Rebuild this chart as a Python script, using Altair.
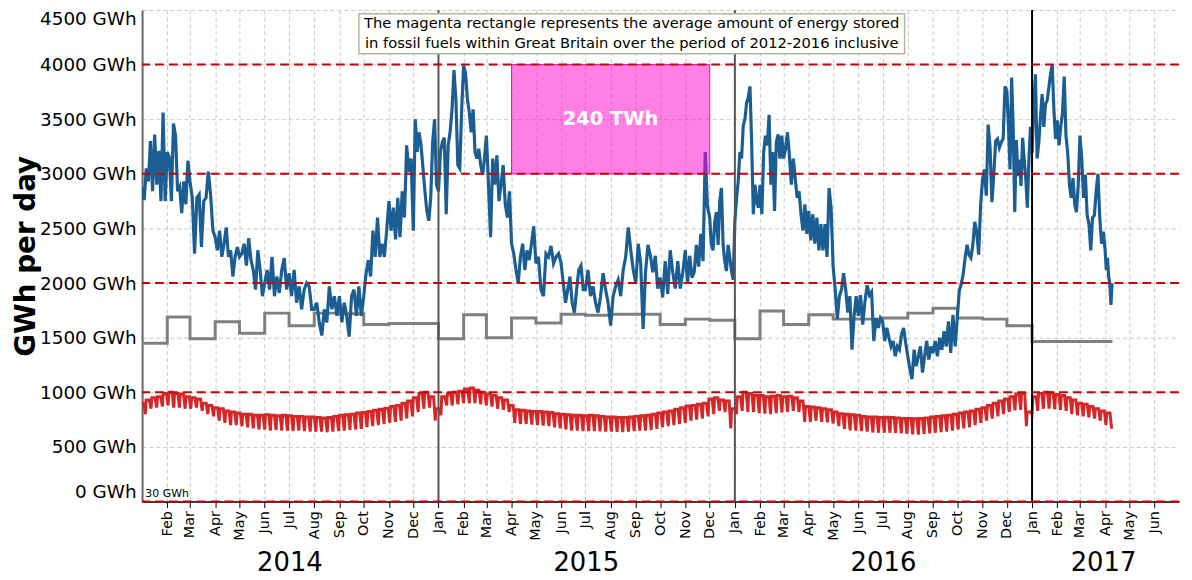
import calendar
from datetime import datetime, timedelta

import altair as alt
import pandas as pd

# ---------------- data ----------------
# Daily gas demand (blue), sampled values per month
blue_2014 = [
    [2880, 2760, 3050, 2930, 3300, 2840, 3360, 2900, 3210, 2750, 3560, 2750],
    [3200, 3150, 2750, 3460, 3350, 2840, 2880, 2640, 2930, 2720, 3120],
    [2930, 2780, 2270, 2780, 2810, 2330, 2750, 2780, 3020, 2810, 2480],
    [2420, 2300, 2480, 2240, 2360, 2510, 2240, 2300, 2060, 2240, 2330],
    [2240, 2270, 2360, 2160, 2410, 2210, 2120, 1940, 2300, 2120, 1880],
    [2000, 2120, 1940, 2240, 1880, 2060, 1910, 2120, 2230, 1940],
    [2090, 1880, 2120, 1820, 1970, 1760, 1940, 2000, 1970, 1760],
    [1760, 1820, 1640, 1520, 1760, 1640, 1970, 1760, 1880, 1700],
    [1880, 1640, 1820, 1700, 1510, 1880, 1940, 1700, 1970, 1700],
    [1880, 2090, 2210, 2060, 2480, 2240, 2600, 2240, 2360, 2240, 2480],
    [2750, 2480, 2690, 2400, 2780, 2420, 2840, 2600, 3260, 3020, 3140],
    [2480, 3500, 3200, 3380, 3260, 3050, 2840, 2660, 2570, 2780, 3290, 3500, 2900],
]
blue_2015 = [
    [2840, 3200, 3290, 3330, 2630, 3260, 3380, 3590, 3950, 3680, 3080, 3050, 3600],
    [3990, 3920, 3680, 3560, 3380, 3590, 3200, 3140, 3230, 3080, 2990, 3140],
    [3350, 2900, 2420, 3140, 2900, 3170, 2750, 2900, 3080, 2720, 2600, 2840],
    [2360, 2270, 2120, 2000, 2240, 2360, 2120, 2300, 2210, 2360, 2520],
    [2180, 2240, 1940, 1880, 2270, 2240, 2340, 2180, 2240, 2270],
    [2180, 2000, 1820, 1940, 2060, 1820, 1730, 1940, 2120, 2160, 1940],
    [1940, 2120, 1880, 1970, 1820, 1730, 1880, 2090, 1940, 1820],
    [1610, 1880, 1970, 2030, 1880, 2120, 2240, 2510, 2300, 2120],
    [2000, 2360, 2180, 1580, 2100, 2350, 2250, 2100, 2250, 1950],
    [2050, 1870, 2200, 1900, 2300, 2100, 1950, 2200, 1950, 2100],
    [2300, 2000, 2250, 2050, 2100, 2350, 2150, 2450, 2200, 3200, 2700],
    [2600, 2350, 2300, 2560, 2650, 2350, 2750, 2870, 2350, 2200, 2110, 2350, 2230, 2110, 2030],
]
blue_2016 = [
    [2560, 2780, 2930, 3200, 3140, 3440, 3500, 3650, 3700, 3800, 3290, 2630, 2900, 2750, 2690],
    [2900, 2630, 3200, 3350, 3260, 3540, 2900, 3200, 2660, 3290, 3360, 3140, 3350],
    [3140, 3230, 3380, 3170, 2900, 3140, 2960, 2780, 2840, 2630, 2480, 2720, 2450],
    [2660, 2390, 2630, 2360, 2600, 2300, 2540, 2300, 2540, 2240, 2870, 2690],
    [2150, 1940, 1670, 1880, 1940, 2090, 1940, 1730, 1880, 1390, 1700, 1880],
    [1700, 1890, 1620, 1830, 1980, 1890, 1920, 1470, 1680, 1590, 1680],
    [1650, 1470, 1590, 1500, 1420, 1470, 1330, 1420, 1390, 1530, 1590, 1450],
    [1330, 1210, 1120, 1390, 1240, 1330, 1420, 1180, 1330, 1470, 1300, 1420],
    [1360, 1470, 1330, 1500, 1390, 1560, 1420, 1650, 1360, 1710, 1420],
    [1690, 1930, 1990, 2080, 2230, 2350, 2260, 2230, 2350, 2560, 2470, 2260, 2710],
    [2950, 3040, 2800, 3450, 3250, 2740, 2990, 3300, 3320, 3240, 3290, 3320, 3800],
    [3760, 3430, 3040, 3880, 3430, 2650, 3310, 2980, 3130, 2890, 3330, 3130, 2960, 2690, 3130, 3430],
]
blue_2017 = [
    [3190, 3610, 3910, 3140, 3280, 3520, 3730, 3430, 3640, 3670, 3790, 3910, 4000, 3590, 3320],
    [3490, 3260, 3430, 3560, 3890, 3350, 3190, 2900, 2780, 2960, 2720, 2650, 2900],
    [3350, 3140, 2780, 2990, 2620, 2540, 2300, 2600, 2620, 2840, 3000, 2600, 2360, 2470],
    [2300, 2120, 2230, 2060, 2000, 1800, 2000],
]
blue_last_days = 10  # data stops around 10 April 2017

# Monthly step series (grey)
gray_2014 = [1450, 1690, 1490, 1645, 1540, 1725, 1610, 1725, 1720, 1620, 1630, 1630]
gray_2015 = [1490, 1710, 1500, 1680, 1635, 1715, 1705, 1715, 1715, 1620, 1670, 1660]
gray_2016 = [1490, 1745, 1620, 1710, 1670, 1670, 1680, 1725, 1770, 1680, 1670, 1610]
gray_2017 = [1465, 1465, 1465, 1465]

# Electricity (red): weekday level and weekend dip per week (weeks start Mon 30 Dec 2013)
red_high_2014 = [900, 930, 950, 960, 990, 1000, 990, 985, 960, 950, 940, 900, 880, 860,
                 850, 830, 820, 810, 800, 800, 790, 790, 795, 790, 785, 790, 785,
                 780, 780, 775, 775, 770, 765, 770, 780, 790, 795, 800, 810, 815,
                 825, 835, 845, 855, 870, 880, 900, 920, 950, 990, 1000, 960]
red_low_2014 = [800, 850, 860, 870, 880, 860, 860, 850, 850, 860, 830, 800, 780, 740,
                720, 700, 700, 690, 680, 670, 660, 660, 650, 655, 650, 650, 645,
                650, 645, 640, 640, 640, 635, 640, 645, 650, 655, 660, 665, 680,
                690, 700, 710, 720, 730, 740, 760, 780, 820, 850, 860, 740]
red_high_2015 = [850, 960, 985, 1000, 1010, 1030, 1040, 1020, 1000, 985, 970, 950, 930, 880,
                 840, 835, 830, 825, 825, 820, 815, 805, 800, 795, 790, 790, 785,
                 790, 785, 780, 775, 775, 770, 770, 775, 780, 785, 790, 800, 810,
                 820, 830, 845, 860, 875, 880, 890, 900, 940, 950, 930, 920, 850]
red_low_2015 = [790, 880, 880, 890, 900, 900, 900, 890, 880, 870, 850, 840, 820, 720,
                710, 710, 705, 700, 695, 690, 680, 670, 660, 650, 650, 645, 645,
                645, 642, 640, 640, 638, 636, 640, 645, 650, 650, 655, 665, 680,
                690, 700, 710, 720, 740, 750, 760, 780, 800, 830, 820, 670, 800]
red_high_2016 = [960, 1000, 990, 970, 970, 960, 965, 970, 960, 965, 950, 920, 870,
                 865, 860, 850, 840, 820, 805, 800, 795, 790, 780, 775, 775, 770,
                 772, 770, 765, 760, 760, 758, 760, 765, 775, 780, 785, 790, 800,
                 810, 820, 830, 845, 860, 880, 900, 920, 940, 960, 985, 990, 820]
red_low_2016 = [830, 820, 820, 810, 805, 800, 810, 815, 820, 830, 820, 730, 730,
                740, 730, 725, 715, 690, 665, 651, 650, 645, 640, 632, 630, 630,
                630, 628, 625, 620, 615, 612, 620, 625, 630, 636, 640, 650, 660,
                670, 680, 700, 720, 740, 760, 780, 800, 820, 835, 840, 690, 800]
red_high_2017 = [960, 990, 1000, 995, 980, 970, 950, 930, 900, 890, 870, 850, 830, 810]
red_low_2017 = [830, 850, 850, 845, 840, 830, 800, 790, 780, 770, 760, 740, 700, 667]

year_names = ["2014", "2015", "2016", "2017"]
red_levels = [0, 1000, 2000, 3000, 4000]
y_ticks = [0, 500, 1000, 1500, 2000, 2500, 3000, 3500, 4000, 4500]

note_lines = [
    "The magenta rectangle represents the average amount of energy stored",
    "in fossil fuels within Great Britain over the period of 2012-2016 inclusive",
]

FONT = "DejaVu Sans"


def iso(d):
    return d.strftime("%Y-%m-%dT%H:%M:%SZ")


# ---------------- build tables ----------------
blue_rows = []
for year, months in [(2014, blue_2014), (2015, blue_2015), (2016, blue_2016), (2017, blue_2017)]:
    for m, vals in enumerate(months, start=1):
        span = calendar.monthrange(year, m)[1]
        if year == 2017 and m == len(blue_2017):
            span = blue_last_days
        n = len(vals)
        for i, v in enumerate(vals):
            d = datetime(year, m, 1) + timedelta(days=i * span / n)
            blue_rows.append({"date": iso(d), "v": v})
blue_df = pd.DataFrame(blue_rows)

gray_rows = []
for year, vals in [(2014, gray_2014), (2015, gray_2015), (2016, gray_2016), (2017, gray_2017)]:
    for m, v in enumerate(vals, start=1):
        gray_rows.append({"date": iso(datetime(year, m, 1)), "v": v})
gray_rows.append({"date": iso(datetime(2017, 4, blue_last_days)), "v": gray_2017[-1]})
gray_df = pd.DataFrame(gray_rows)

red_high = red_high_2014 + red_high_2015 + red_high_2016 + red_high_2017
red_low = red_low_2014 + red_low_2015 + red_low_2016 + red_low_2017
week0 = datetime(2013, 12, 30)
red_rows = []
for k, (hi, lo) in enumerate(zip(red_high, red_low)):
    mon = week0 + timedelta(days=7 * k)
    red_rows.append({"date": iso(mon), "v": hi})
    red_rows.append({"date": iso(mon + timedelta(days=4)), "v": hi})
    red_rows.append({"date": iso(mon + timedelta(days=6)), "v": lo})
red_df = pd.DataFrame(red_rows)

# ---------------- scales & axes ----------------
W, H = 1044, 495


def dt(y, m, d=1):
    return alt.DateTime(year=y, month=m, date=d, utc=True)


month_ticks = []
for y in [2014, 2015, 2016, 2017]:
    for m in range(1, 13):
        if (y == 2014 and m == 1) or (y == 2017 and m > 6):
            continue
        month_ticks.append(dt(y, m))

xscale = alt.Scale(type="utc", domain=[dt(2014, 1), dt(2017, 7)])
yscale = alt.Scale(domain=[0, 4500], nice=False)

xaxis = alt.Axis(
    values=month_ticks,
    labelExpr="utcFormat(datum.value, '%b')",
    labelAngle=270,
    labelFont=FONT,
    labelFontSize=14.5,
    labelColor="black",
    labelPadding=3,
    labelOverlap=False,
    labelFlush=False,
    tickColor="black",
    tickSize=6,
    tickWidth=1,
    domainColor="black",
    domainWidth=1.5,
    grid=True,
    gridColor="#c8c8c8",
    gridDash=[4, 3],
    gridWidth=1,
    title=None,
)
yaxis = alt.Axis(
    values=y_ticks,
    labelExpr="datum.value + ' GWh'",
    labelFont=FONT,
    labelFontSize=18.5,
    labelColor="black",
    labelFlush=True,
    labelPadding=6,
    ticks=False,
    domainColor="#666666",
    domainWidth=2,
    grid=True,
    gridColor="#c8c8c8",
    gridDash=[4, 3],
    gridWidth=1,
    title="GWh per day",
    titleFont=FONT,
    titleFontSize=28,
    titleFontWeight="bold",
    titleColor="black",
    titleAngle=270,
    titleX=-108,
    titleY=H / 2,
    titleAlign="center",
    titleBaseline="alphabetic",
)


def X(field="date"):
    return alt.X(f"{field}:T", scale=xscale, axis=xaxis)


def Y(field="v"):
    return alt.Y(f"{field}:Q", scale=yscale, axis=yaxis)


# ---------------- layers ----------------
gray_line = alt.Chart(gray_df).mark_line(
    interpolate="step-after", color="#7f7f7f", strokeWidth=3, clip=True
).encode(x=X(), y=Y())

red_line = alt.Chart(red_df).mark_line(color="#d62728", strokeWidth=3, clip=True).encode(
    x=X(), y=Y()
)

blue_line = alt.Chart(blue_df).mark_line(color="#1b5e94", strokeWidth=3.2, clip=True).encode(
    x=X(), y=Y()
)

red_rules = alt.Chart(pd.DataFrame({"v": red_levels})).mark_rule(
    color="#c8000a", strokeDash=[9, 5], strokeWidth=2
).encode(y=Y())

year_df = pd.DataFrame(
    {
        "date": [iso(datetime(2015, 1, 1)), iso(datetime(2016, 1, 1)), iso(datetime(2017, 1, 1))],
        "c": ["#555555", "#555555", "#000000"],
    }
)
year_rules = alt.Chart(year_df).mark_rule(strokeWidth=2).encode(
    x=X(), color=alt.Color("c:N", scale=None)
)

rect_df = pd.DataFrame(
    {
        "x1": [iso(datetime(2015, 4, 1))],
        "x2": [iso(datetime(2015, 12, 1))],
        "y1": [3000],
        "y2": [4000],
        "xm": [iso(datetime(2015, 8, 1))],
        "ym": [3500],
        "t": ["240 TWh"],
    }
)
mag_rect = alt.Chart(rect_df).mark_rect(
    fill="#ff00cc", fillOpacity=0.5, stroke="#ff00cc", strokeWidth=1
).encode(x=X("x1"), x2="x2:T", y=Y("y1"), y2="y2:Q")
mag_text = alt.Chart(rect_df).mark_text(
    color="white", font=FONT, fontSize=19.5, fontWeight="bold", baseline="middle"
).encode(x=X("xm"), y=Y("ym"), text="t:N")

box_df = pd.DataFrame(
    {
        "x1": [iso(datetime(2014, 9, 25))],
        "x2": [iso(datetime(2016, 7, 28))],
        "y1": [4100],
        "y2": [4465],
    }
)
note_box = alt.Chart(box_df).mark_rect(
    fill="#fffffb", stroke="#b4b4a6", strokeWidth=1.5
).encode(x=X("x1"), x2="x2:T", y=Y("y1"), y2="y2:Q")

note_df = pd.DataFrame(
    {"date": [iso(datetime(2015, 8, 27))] * 2, "v": [4370, 4190], "t": note_lines}
)
note_text = alt.Chart(note_df).mark_text(
    font=FONT, fontSize=14.8, color="black", baseline="middle", align="center"
).encode(x=X(), y=Y(), text="t:N")

yl_df = pd.DataFrame(
    {
        "date": [
            iso(datetime(2014, 7, 2)),
            iso(datetime(2015, 7, 2)),
            iso(datetime(2016, 7, 2)),
            iso(datetime(2017, 3, 30)),
        ],
        "t": year_names,
    }
)
year_labels = alt.Chart(yl_df).mark_text(
    font=FONT, fontSize=26, color="black", baseline="middle", align="center"
).encode(x=X(), y=alt.value(H + 62), text="t:N")

small_df = pd.DataFrame({"date": [iso(datetime(2014, 1, 5))], "v": [45], "t": ["30 GWh"]})
small_text = alt.Chart(small_df).mark_text(
    fontSize=11, font=FONT, color="black", align="left", baseline="alphabetic"
).encode(x=X(), y=Y(), text="t:N")

chart = (
    alt.layer(
        gray_line,
        red_line,
        blue_line,
        mag_rect,
        mag_text,
        year_rules,
        red_rules,
        note_box,
        note_text,
        year_labels,
        small_text,
    )
    .properties(
        width=W,
        height=H,
        padding={"left": 135, "top": 0, "right": 5, "bottom": 77},
        autosize=alt.AutoSizeParams(type="none"),
        background="white",
    )
    .configure(font=FONT)
    .configure_view(strokeWidth=0)
)

chart.save("out.html", embed_options={"renderer": "svg", "actions": False})
